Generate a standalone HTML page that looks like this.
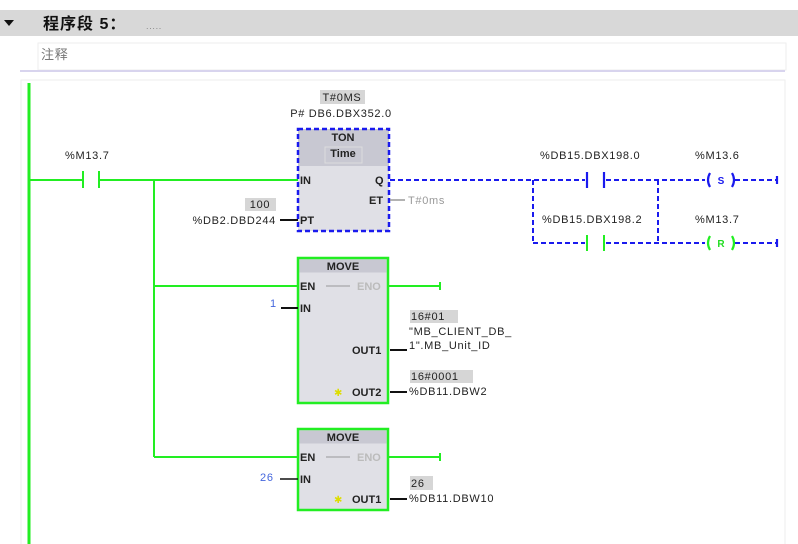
<!DOCTYPE html>
<html><head><meta charset="utf-8"><style>
body{margin:0;background:#fff;width:798px;height:544px;overflow:hidden}
svg{display:block}
text{font-family:"Liberation Sans","Noto Sans CJK SC",sans-serif;font-size:11px;fill:#222;letter-spacing:0.7px}
.b{font-weight:bold;letter-spacing:0}
</style></head><body>
<svg width="798" height="544" viewBox="0 0 798 544">
<rect x="0" y="10" width="798" height="26" fill="#d8d8d8"/>
<polygon points="4,20 14,20 9,26" fill="#111"/>
<text x="43" y="29" class="b" style="font-size:16px;fill:#111;letter-spacing:1px">程序段 5：</text>
<text x="146" y="29" style="font-size:9px;fill:#888">.....</text>
<rect x="38" y="43" width="748" height="27" fill="#fff" stroke="#eee"/>
<text x="41" y="59" style="font-size:13px;fill:#777">注释</text>
<line x1="20" y1="71" x2="785" y2="71" stroke="#d8d4ee" stroke-width="2"/>
<rect x="21" y="80" width="764" height="470" fill="#fff" stroke="#eee"/>
<line x1="29" y1="83" x2="29" y2="544" stroke="#22ee22" stroke-width="3"/>
<g stroke="#22ee22" stroke-width="2" fill="none">
<line x1="29" y1="180" x2="83" y2="180"/>
<line x1="83" y1="171" x2="83" y2="188"/><line x1="99" y1="171" x2="99" y2="188"/>
<line x1="99" y1="180" x2="298" y2="180"/>
<line x1="154" y1="180" x2="154" y2="457"/>
<line x1="154" y1="286" x2="298" y2="286"/>
<line x1="154" y1="457" x2="298" y2="457"/>
<line x1="388" y1="286" x2="440" y2="286"/><line x1="440" y1="282" x2="440" y2="290"/>
<line x1="388" y1="457" x2="440" y2="457"/><line x1="440" y1="453" x2="440" y2="461"/>
<line x1="587" y1="235" x2="587" y2="251"/><line x1="604" y1="235" x2="604" y2="251"/>
</g>
<text x="65" y="159">%M13.7</text>
<rect x="320" y="90" width="45" height="14" fill="#d6d6d6"/>
<text x="342" y="101" text-anchor="middle">T#0MS</text>
<text x="341" y="117" text-anchor="middle">P# DB6.DBX352.0</text>
<rect x="298" y="129" width="91" height="102" fill="#e0e0e6"/>
<rect x="298" y="129" width="91" height="37" fill="#c8c8d2"/>
<rect x="325" y="147" width="37" height="16" fill="#c8c8d2" stroke="#ddd"/>
<text x="343" y="141" text-anchor="middle" class="b">TON</text>
<text x="343" y="157" text-anchor="middle" class="b">Time</text>
<rect x="298" y="129" width="91" height="102" fill="none" stroke="#1a1aee" stroke-width="2.5" stroke-dasharray="5,3"/>
<text x="300" y="184" class="b">IN</text>
<text x="375" y="184" class="b">Q</text>
<text x="369" y="204" class="b">ET</text>
<text x="300" y="224" class="b">PT</text>
<rect x="245" y="198" width="31" height="13" fill="#d6d6d6"/>
<text x="260" y="208" text-anchor="middle">100</text>
<text x="276" y="224" text-anchor="end">%DB2.DBD244</text>
<line x1="280" y1="220" x2="298" y2="220" stroke="#111" stroke-width="2"/>
<line x1="390" y1="200" x2="405" y2="200" stroke="#999" stroke-width="1.5"/>
<text x="408" y="204" style="fill:#999">T#0ms</text>
<g stroke="#1a1aee" stroke-width="2" fill="none" stroke-dasharray="5,3">
<line x1="390" y1="180" x2="585" y2="180"/>
<line x1="533" y1="180" x2="533" y2="243"/>
<line x1="533" y1="243" x2="585" y2="243"/>
<line x1="606" y1="180" x2="705" y2="180"/>
<line x1="606" y1="243" x2="705" y2="243"/>
<line x1="658" y1="180" x2="658" y2="243"/>
<line x1="735" y1="180" x2="776" y2="180"/>
<line x1="735" y1="243" x2="776" y2="243"/>
</g>
<g stroke="#1a1aee" stroke-width="2.2" fill="none">
<line x1="587" y1="172" x2="587" y2="188"/><line x1="604" y1="172" x2="604" y2="188"/>
<line x1="777" y1="176" x2="777" y2="184"/><line x1="777" y1="239" x2="777" y2="247"/>
<path d="M710,173 Q706,180 710,187"/><path d="M732,173 Q736,180 732,187"/>
</g>
<text x="721" y="184" text-anchor="middle" class="b" style="fill:#1a1aee;font-size:10px">S</text>
<g stroke="#22ee22" stroke-width="2.2" fill="none">
<path d="M710,236 Q706,243 710,250"/><path d="M732,236 Q736,243 732,250"/>
</g>
<text x="721" y="247" text-anchor="middle" class="b" style="fill:#22dd22;font-size:10px">R</text>
<text x="540" y="159">%DB15.DBX198.0</text>
<text x="695" y="159">%M13.6</text>
<text x="542" y="223">%DB15.DBX198.2</text>
<text x="695" y="223">%M13.7</text>
<rect x="298" y="258" width="90" height="145" fill="#e0e0e6" stroke="#22ee22" stroke-width="2.5"/>
<rect x="299.5" y="259.5" width="87" height="13" fill="#c8c8d2"/>
<text x="343" y="270" text-anchor="middle" class="b">MOVE</text>
<text x="300" y="290" class="b">EN</text>
<line x1="326" y1="286" x2="350" y2="286" stroke="#999"/>
<text x="357" y="290" class="b" style="fill:#bbb">ENO</text>
<text x="300" y="312" class="b">IN</text>
<text x="352" y="354" class="b">OUT1</text>
<text x="352" y="396" class="b">OUT2</text>
<text x="334" y="396" style="fill:#dd0;font-size:10px">✱</text>
<text x="270" y="307" style="fill:#4466dd">1</text>
<line x1="281" y1="308" x2="298" y2="308" stroke="#111" stroke-width="2"/>
<line x1="390" y1="350" x2="407" y2="350" stroke="#111" stroke-width="2"/>
<line x1="390" y1="392" x2="407" y2="392" stroke="#111" stroke-width="2"/>
<rect x="410" y="310" width="48" height="13" fill="#d6d6d6"/>
<text x="411" y="320">16#01</text>
<text x="409" y="335">"MB_CLIENT_DB_</text>
<text x="409" y="349">1".MB_Unit_ID</text>
<rect x="410" y="370" width="63" height="13" fill="#d6d6d6"/>
<text x="411" y="380">16#0001</text>
<text x="409" y="395">%DB11.DBW2</text>
<rect x="298" y="429" width="90" height="81" fill="#e0e0e6" stroke="#22ee22" stroke-width="2.5"/>
<rect x="299.5" y="430.5" width="87" height="13" fill="#c8c8d2"/>
<text x="343" y="441" text-anchor="middle" class="b">MOVE</text>
<text x="300" y="461" class="b">EN</text>
<line x1="326" y1="457" x2="350" y2="457" stroke="#999"/>
<text x="357" y="461" class="b" style="fill:#bbb">ENO</text>
<text x="300" y="483" class="b">IN</text>
<text x="352" y="503" class="b">OUT1</text>
<text x="334" y="503" style="fill:#dd0;font-size:10px">✱</text>
<text x="260" y="481" style="fill:#4466dd">26</text>
<line x1="280" y1="479" x2="298" y2="479" stroke="#111" stroke-width="1.5"/>
<line x1="390" y1="499" x2="407" y2="499" stroke="#111" stroke-width="2"/>
<rect x="410" y="476" width="23" height="14" fill="#d6d6d6"/>
<text x="411" y="487">26</text>
<text x="409" y="502">%DB11.DBW10</text>
</svg>
</body></html>
